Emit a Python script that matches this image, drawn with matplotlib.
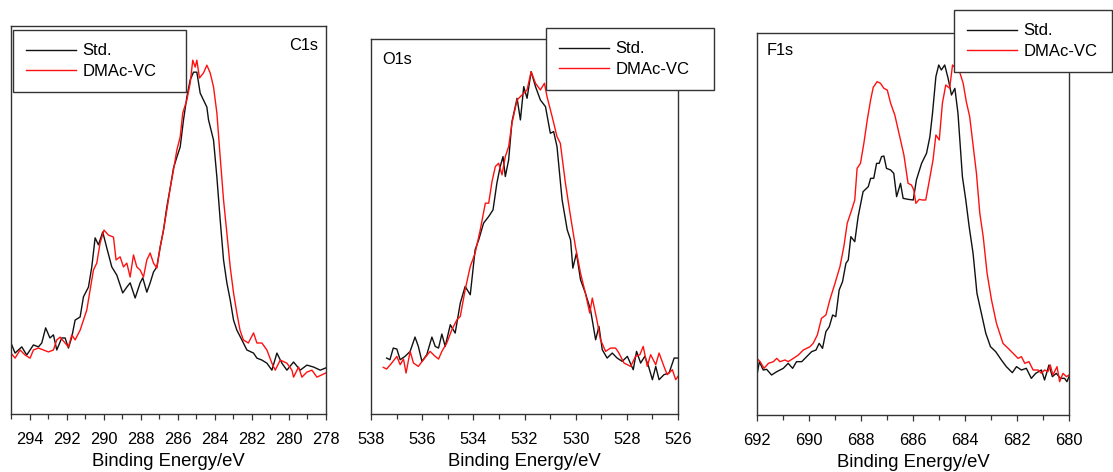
import matplotlib
matplotlib.use('Agg')
import matplotlib.pyplot as plt
from matplotlib.ticker import MultipleLocator

plt.rcParams['font.family'] = ['Liberation Sans', 'DejaVu Sans']
plt.rcParams['font.size'] = 11.5

# ---- C1s ----
c1s_std_e = [295.0, 294.78, 294.42, 294.15, 293.79, 293.52, 293.34, 293.13, 292.90, 292.71,
             292.53, 292.26, 292.08, 291.90, 291.72, 291.54, 291.27, 291.09, 290.82, 290.64,
             290.46, 290.28, 290.05, 289.83, 289.56, 289.29, 288.97, 288.75, 288.57, 288.30,
             288.03, 287.89, 287.67, 287.49, 287.31, 287.13, 286.95, 286.77, 286.59, 286.41,
             286.23, 286.05, 285.87, 285.69, 285.51, 285.33, 285.15, 284.97, 284.79, 284.61,
             284.43, 284.34, 284.07, 283.89, 283.71, 283.53, 283.35, 283.17, 282.99, 282.81,
             282.54, 282.27, 281.91, 281.73, 281.46, 281.19, 280.92, 280.65, 280.38, 280.11,
             279.75, 279.39, 279.03, 278.67, 278.31, 278.0]
c1s_std_i = [18.3, 15.7, 17.3, 15.2, 17.8, 17.3, 18.3, 22.2, 19.6, 20.4,
             16.5, 19.6, 19.6, 17.0, 19.8, 24.2, 25.0, 30.2, 32.7, 37.9,
             45.4, 43.6, 46.9, 42.8, 37.9, 35.8, 31.2, 32.7, 33.8, 29.9,
             33.8, 35.1, 31.4, 33.8, 36.6, 37.9, 43.0, 47.4, 53.4, 58.2,
             63.4, 66.2, 68.8, 75.8, 81.7, 86.1, 88.1, 88.1, 82.7, 80.9,
             79.1, 75.8, 70.6, 61.1, 50.0, 39.7, 33.8, 29.4, 24.2, 21.6,
             19.1, 16.5, 15.7, 14.4, 13.9, 13.1, 11.3, 15.7, 13.1, 11.3,
             13.4, 11.3, 12.6, 12.1, 11.3, 11.9]
c1s_vc_e = [295.0, 294.78, 294.51, 294.24, 293.97, 293.79, 293.52, 293.25, 292.98, 292.71,
            292.53, 292.35, 292.08, 291.90, 291.72, 291.54, 291.27, 291.09, 290.91, 290.73,
            290.55, 290.37, 290.19, 289.98, 289.74, 289.47, 289.33, 289.11, 288.93, 288.75,
            288.57, 288.39, 288.21, 288.03, 287.85, 287.67, 287.49, 287.31, 287.13, 286.95,
            286.77, 286.59, 286.41, 286.23, 286.05, 285.87, 285.73, 285.51, 285.33, 285.19,
            285.06, 284.97, 284.83, 284.61, 284.43, 284.25, 284.07, 283.89, 283.71, 283.53,
            283.35, 283.17, 282.99, 282.81, 282.64, 282.46, 282.19, 281.91, 281.73, 281.46,
            281.19, 280.92, 280.74, 280.47, 280.11, 279.84, 279.75, 279.48, 279.30, 279.03,
            278.76, 278.49, 278.22, 278.0]
c1s_vc_i = [15.7, 14.4, 16.5, 15.2, 14.4, 16.5, 17.0, 16.5, 16.0, 16.5,
            19.1, 19.8, 18.3, 17.3, 20.4, 19.1, 21.6, 24.2, 26.8, 32.0,
            37.1, 38.9, 44.1, 47.4, 46.1, 45.6, 39.7, 40.5, 37.9, 38.9,
            35.3, 41.0, 37.9, 37.1, 35.3, 39.7, 41.5, 38.9, 37.6, 43.0,
            47.4, 52.6, 58.2, 62.9, 68.0, 71.4, 77.6, 80.9, 85.3, 91.2,
            89.4, 91.2, 86.6, 87.9, 89.9, 87.9, 84.3, 77.6, 66.2, 55.2,
            46.6, 37.9, 31.2, 26.0, 21.6, 19.1, 18.3, 20.9, 18.3, 18.3,
            16.5, 13.1, 11.3, 13.9, 13.1, 11.3, 9.5, 12.1, 9.5, 10.8,
            11.3, 9.5, 10.1, 10.6]

# ---- O1s ----
o1s_std_e = [537.39, 537.26, 537.13, 536.99, 536.86, 536.67, 536.47, 536.28, 536.15, 536.01,
             535.82, 535.62, 535.49, 535.36, 535.23, 535.10, 534.90, 534.71, 534.51, 534.32,
             534.12, 533.93, 533.79, 533.60, 533.40, 533.23, 533.08, 532.95, 532.84, 532.75,
             532.62, 532.49, 532.29, 532.16, 532.03, 531.90, 531.74, 531.57, 531.38, 531.18,
             530.99, 530.86, 530.73, 530.53, 530.33, 530.20, 530.11, 529.97, 529.81, 529.62,
             529.42, 529.22, 529.09, 528.96, 528.77, 528.57, 528.38, 528.18, 527.98, 527.75,
             527.62, 527.46, 527.30, 527.17, 527.00, 526.87, 526.74, 526.55, 526.35, 526.15,
             526.0]
o1s_std_i = [16.8, 16.3, 19.8, 19.5, 16.3, 17.3, 18.8, 23.1, 20.3, 15.8,
             17.8, 23.1, 20.3, 19.8, 24.0, 20.3, 26.8, 24.3, 33.3, 38.3,
             35.8, 49.3, 52.3, 57.3, 59.3, 61.3, 69.3, 74.3, 77.3, 71.3,
             76.3, 87.8, 94.8, 88.3, 98.3, 94.8, 102.8, 98.3, 94.3, 92.3,
             84.3, 84.8, 80.3, 64.3, 55.3, 52.3, 43.8, 48.3, 40.3, 36.3,
             31.3, 22.3, 26.3, 19.3, 16.8, 18.3, 16.8, 15.8, 17.3, 13.3,
             18.8, 15.3, 17.3, 14.8, 10.3, 14.3, 10.3, 11.8, 12.3, 16.8,
             16.8]
o1s_vc_e = [537.52, 537.39, 537.19, 536.99, 536.86, 536.73, 536.63, 536.47, 536.34, 536.15,
            535.95, 535.69, 535.49, 535.36, 535.23, 535.04, 534.84, 534.64, 534.51, 534.32,
            534.12, 533.93, 533.73, 533.53, 533.40, 533.27, 533.14, 533.01, 532.88, 532.75,
            532.62, 532.49, 532.29, 532.16, 532.03, 531.90, 531.74, 531.57, 531.38, 531.22,
            531.12, 530.92, 530.73, 530.60, 530.40, 530.20, 530.01, 529.81, 529.62, 529.45,
            529.35, 529.16, 529.03, 528.83, 528.64, 528.44, 528.31, 528.11, 527.85, 527.66,
            527.49, 527.36, 527.20, 527.07, 526.87, 526.74, 526.55, 526.42, 526.22, 526.09,
            526.0]
o1s_vc_i = [14.0, 13.5, 15.3, 17.3, 14.8, 16.5, 12.3, 18.8, 15.3, 14.3,
            16.3, 18.8, 17.3, 16.5, 18.8, 21.3, 25.3, 28.3, 29.3, 37.3,
            44.3, 48.3, 55.3, 63.3, 63.3, 69.8, 74.3, 75.3, 71.8, 77.3,
            80.3, 87.3, 94.3, 95.3, 96.3, 97.3, 102.8, 99.3, 97.3, 99.3,
            95.3, 89.3, 83.3, 81.3, 69.3, 59.3, 50.3, 42.3, 36.3, 30.3,
            34.8, 27.8, 22.3, 18.8, 19.8, 19.8, 18.3, 15.3, 14.3, 17.3,
            17.8, 20.3, 14.3, 17.8, 14.8, 18.3, 14.3, 11.8, 13.3, 10.3,
            11.3]

# ---- F1s ----
f1s_std_e = [692.0, 691.91, 691.76, 691.63, 691.44, 691.24, 690.99, 690.80, 690.63, 690.48,
             690.28, 690.09, 689.90, 689.73, 689.61, 689.48, 689.35, 689.22, 689.09, 688.97,
             688.84, 688.71, 688.58, 688.49, 688.39, 688.24, 688.11, 687.92, 687.72, 687.63,
             687.51, 687.40, 687.30, 687.21, 687.12, 687.02, 686.86, 686.74, 686.63, 686.48,
             686.38, 686.19, 685.99, 685.87, 685.67, 685.48, 685.35, 685.25, 685.12, 685.01,
             684.91, 684.78, 684.65, 684.52, 684.39, 684.27, 684.10, 683.97, 683.84, 683.69,
             683.54, 683.37, 683.20, 683.02, 682.82, 682.60, 682.41, 682.18, 682.02, 681.83,
             681.64, 681.45, 681.28, 681.06, 680.94, 680.77, 680.64, 680.49, 680.33, 680.17,
             680.08, 680.0]
f1s_std_i = [12.0, 16.0, 13.5, 13.7, 12.0, 13.0, 14.0, 15.5, 14.0, 16.0,
             16.0, 17.5, 19.0, 19.5, 21.5, 20.0, 25.0, 26.5, 30.0, 29.5,
             37.5, 40.0, 45.5, 46.5, 53.5, 52.0, 59.5, 67.0, 68.5, 71.0,
             71.0, 75.5, 75.5, 77.5, 77.7, 74.0, 73.5, 72.5, 65.5, 69.5,
             65.0, 64.7, 64.5, 70.5, 75.5, 78.5, 83.5, 90.5, 101.5, 105.0,
             103.5, 105.0, 101.0, 96.0, 98.0, 90.5, 71.5, 64.5, 56.5, 48.5,
             36.5, 30.5, 24.5, 20.5, 19.0, 16.5, 14.5, 12.7, 14.5, 13.5,
             14.0, 11.0, 12.5, 13.5, 10.5, 15.0, 11.5, 12.5, 11.0, 11.0,
             10.0, 11.5]
f1s_vc_e = [692.0, 691.88, 691.73, 691.56, 691.37, 691.24, 691.12, 690.92, 690.80, 690.60,
            690.41, 690.22, 690.09, 689.96, 689.84, 689.68, 689.52, 689.35, 689.20, 689.00,
            688.81, 688.66, 688.53, 688.36, 688.24, 688.15, 688.02, 687.89, 687.76, 687.63,
            687.53, 687.38, 687.25, 687.12, 686.99, 686.86, 686.70, 686.51, 686.35, 686.19,
            686.06, 685.97, 685.89, 685.76, 685.64, 685.51, 685.38, 685.23, 685.12, 684.99,
            684.87, 684.74, 684.59, 684.48, 684.36, 684.23, 684.07, 683.95, 683.82, 683.69,
            683.56, 683.43, 683.30, 683.15, 682.98, 682.79, 682.54, 682.34, 682.15, 681.96,
            681.83, 681.70, 681.54, 681.38, 681.19, 681.06, 680.94, 680.81, 680.72, 680.62,
            680.46, 680.36, 680.23, 680.10, 680.0]
f1s_vc_i = [17.0, 16.0, 14.0, 15.5, 16.0, 17.0, 16.0, 16.5, 16.0, 17.0,
            18.0, 19.5, 20.0, 20.5, 21.5, 24.0, 29.0, 30.0, 34.5, 39.5,
            44.5, 50.5, 57.5, 61.5, 64.5, 74.0, 75.5, 81.5, 88.5, 94.5,
            98.3, 100.0, 99.5, 98.0, 97.5, 93.5, 90.0, 83.5, 78.0, 69.5,
            69.0, 67.5, 63.5, 64.7, 64.5, 64.5, 70.0, 76.5, 84.0, 82.5,
            93.5, 99.0, 98.0, 105.0, 104.0, 103.5, 99.5, 94.0, 89.5, 81.0,
            72.5, 60.5, 53.5, 42.5, 34.5, 27.5, 21.5, 20.0, 18.5, 17.0,
            17.5, 15.5, 16.0, 13.5, 13.5, 12.5, 13.5, 13.0, 15.0, 12.0,
            14.5, 10.0, 12.5, 11.5, 12.0]

series_labels = ['Std.', 'DMAc-VC']
xlabel = 'Binding Energy/eV'

W, H = 1113, 472
fig = plt.figure(figsize=(W / 100, H / 100), dpi=100)


def px_axes(left, top, right, bottom):
    return fig.add_axes([left / W, 1 - bottom / H, (right - left) / W, (bottom - top) / H])


panels = [
    # axes box (px), x range, y top, core level label, legend box (px)
    dict(box=(11, 26, 326, 414), xlim=(295, 278), ytop=100.0,
         std=(c1s_std_e, c1s_std_i), vc=(c1s_vc_e, c1s_vc_i),
         name='C1s', npos=(0.975, 0.951), ha='right', leg=(13, 30, 186, 90)),
    dict(box=(371, 39, 678, 414), xlim=(538, 526), ytop=112.6,
         std=(o1s_std_e, o1s_std_i), vc=(o1s_vc_e, o1s_vc_i),
         name='O1s', npos=(0.036, 0.944), ha='left', leg=(546, 28, 714, 87)),
    dict(box=(757, 33, 1069, 415), xlim=(692, 680), ytop=114.6,
         std=(f1s_std_e, f1s_std_i), vc=(f1s_vc_e, f1s_vc_i),
         name='F1s', npos=(0.032, 0.955), ha='left', leg=(954, 10, 1112, 70)),
]

for p in panels:
    ax = px_axes(*p['box'])
    ax.plot(*p['std'], color='#111111', lw=1.0, label=series_labels[0])
    ax.plot(*p['vc'], color='#ff1010', lw=1.0, label=series_labels[1])
    ax.set_xlim(*p['xlim'])
    ax.set_ylim(0, p['ytop'])
    ax.set_yticks([])
    ax.xaxis.set_major_locator(MultipleLocator(2))
    ax.xaxis.set_minor_locator(MultipleLocator(1))
    ax.tick_params(axis='x', which='major', direction='out', length=4.5, width=0.9,
                   color='#333333', labelsize=11.8, pad=8.5)
    ax.tick_params(axis='x', which='minor', direction='out', length=3.5, width=0.9,
                   color='#333333')
    for s in ax.spines.values():
        s.set_color('#333333')
        s.set_linewidth(1.0)
    ax.set_xlabel(xlabel, fontsize=13.3, labelpad=4)
    ax.text(*p['npos'], p['name'], transform=ax.transAxes, ha=p['ha'], va='center',
            fontsize=11.8)
    l, t, r, b = p['leg']
    leg = ax.legend(loc='upper left', mode='expand',
                    bbox_to_anchor=(l / W, 1 - b / H, (r - l) / W, (b - t) / H),
                    bbox_transform=fig.transFigure, borderaxespad=0, fancybox=False,
                    framealpha=1, edgecolor='#333333', fontsize=12,
                    handlelength=3.0, handletextpad=0.35, borderpad=0.8,
                    labelspacing=0.33)
    leg.get_frame().set_linewidth(1.0)
    leg.set_zorder(5)

fig.savefig('out.png', dpi=100)
